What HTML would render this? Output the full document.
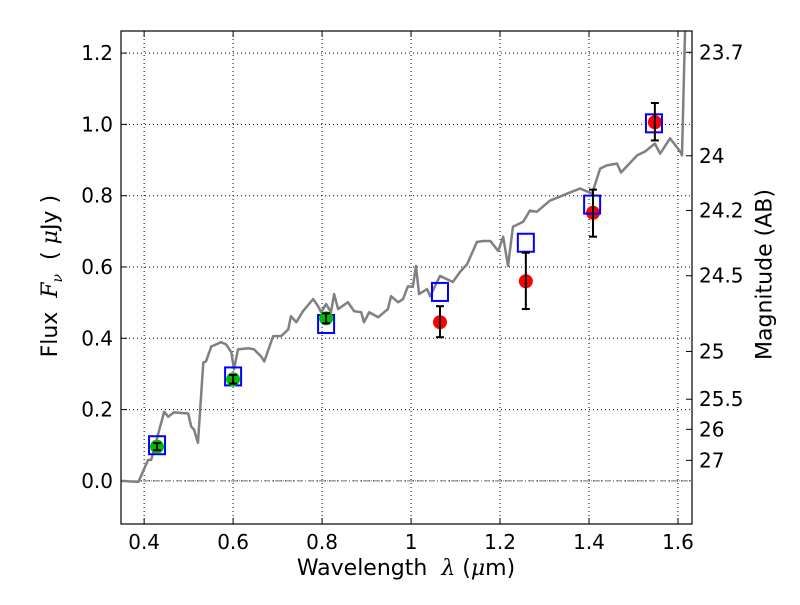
<!DOCTYPE html>
<html><head><meta charset="utf-8"><style>
body{margin:0;background:#fff}
text{font-family:"DejaVu Sans","Liberation Sans",sans-serif;font-size:20px;fill:#000}
</style></head><body>
<svg id="chart" width="800" height="600" xmlns="http://www.w3.org/2000/svg"></svg>
<script>
const xTicks=[0.4,0.6,0.8,1,1.2,1.4,1.6];
const xTickLabels=["0.4","0.6","0.8","1","1.2","1.4","1.6"];
const yTicks=[0,0.2,0.4,0.6,0.8,1.0,1.2];
const yTickLabels=["0.0","0.2","0.4","0.6","0.8","1.0","1.2"];
const magTicks=[23.7,24,24.2,24.5,25,25.5,26,27];
const magLabels=["23.7","24","24.2","24.5","25","25.5","26","27"];
const specWave=[0.348,0.387,0.409,0.416,0.445,0.454,0.467,0.499,0.506,0.512,0.521,0.533,0.539,0.551,0.562,0.573,0.584,0.596,0.602,0.611,0.634,0.647,0.663,0.670,0.690,0.708,0.724,0.730,0.742,0.757,0.780,0.791,0.798,0.809,0.820,0.827,0.836,0.858,0.872,0.888,0.894,0.906,0.926,0.948,0.955,0.971,0.982,0.993,1.004,1.011,1.018,1.036,1.043,1.065,1.094,1.110,1.126,1.148,1.162,1.178,1.196,1.207,1.218,1.229,1.252,1.267,1.283,1.312,1.351,1.380,1.407,1.425,1.440,1.463,1.472,1.508,1.526,1.548,1.560,1.582,1.605,1.609,1.616,1.618];
const specFlux=[0,-0.003,0.059,0.059,0.194,0.180,0.192,0.189,0.152,0.144,0.107,0.332,0.335,0.377,0.383,0.389,0.383,0.361,0.313,0.369,0.372,0.369,0.349,0.335,0.406,0.406,0.425,0.462,0.445,0.476,0.510,0.490,0.473,0.496,0.473,0.524,0.482,0.501,0.476,0.473,0.445,0.473,0.459,0.482,0.518,0.501,0.510,0.546,0.544,0.603,0.524,0.538,0.518,0.575,0.558,0.586,0.608,0.670,0.673,0.673,0.645,0.685,0.603,0.713,0.727,0.758,0.755,0.786,0.806,0.820,0.806,0.876,0.885,0.890,0.865,0.913,0.924,0.946,0.918,0.961,0.924,0.913,1.27,1.3];
const greenWave=[0.429,0.6,0.809];
const greenFlux=[0.096,0.285,0.456];
const greenErr=[0.01,0.012,0.014];
const modelWave=[0.429,0.6,0.809,1.065,1.258,1.407,1.546];
const modelFlux=[0.10,0.293,0.44,0.53,0.668,0.775,1.003];
const redWave=[1.065,1.258,1.409,1.548];
const redFlux=[0.445,0.56,0.752,1.006];
const redLo=[0.403,0.482,0.685,0.955];
const redHi=[0.49,0.64,0.817,1.06];

const L=121,R=692,T=31,B=524,X0=0.348,X1=1.6315,Y0=-0.121,Y1=1.262;
const sx=v=>L+(v-X0)/(X1-X0)*(R-L);
const sy=v=>B-(v-Y0)/(Y1-Y0)*(B-T);
const svg=document.getElementById('chart');
const NS='http://www.w3.org/2000/svg';
function mk(tag,attrs,parent){const e=document.createElementNS(NS,tag);for(const k in attrs)e.setAttribute(k,attrs[k]);(parent||svg).appendChild(e);return e;}
let e;
xTicks.forEach((t,i)=>{
 e=mk('line',{x1:sx(t),x2:sx(t),y1:T,y2:B,stroke:'#000','stroke-dasharray':'1,3','stroke-width':1});
 
 mk('line',{x1:sx(t),x2:sx(t),y1:B,y2:B-6,stroke:'#000'});mk('line',{x1:sx(t),x2:sx(t),y1:T,y2:T+6,stroke:'#000'});
 e=mk('text',{x:sx(t),y:B+25,'text-anchor':'middle'});e.textContent=xTickLabels[i];
 
});
yTicks.forEach((t,i)=>{
 e=mk('line',{x1:L,x2:R,y1:sy(t),y2:sy(t),stroke:'#000','stroke-dasharray':'1,3','stroke-width':1});
 
 mk('line',{x1:L,x2:L+6,y1:sy(t),y2:sy(t),stroke:'#000'});
 e=mk('text',{x:L-8,y:sy(t)+7,'text-anchor':'end'});e.textContent=yTickLabels[i];
 
});
magTicks.forEach((m,i)=>{
 const f=Math.pow(10,(23.9-m)/2.5);const y=sy(f);
 mk('line',{x1:R,x2:R-6,y1:y,y2:y,stroke:'#000'});
 e=mk('text',{x:R+7,y:y+7});e.textContent=magLabels[i];
 
});
e=mk('line',{x1:L,x2:R,y1:sy(0),y2:sy(0),stroke:'#777','stroke-dasharray':'6,2,1,2','stroke-width':1});

const cp=mk('clipPath',{id:'cp'});mk('rect',{x:L,y:T,width:R-L,height:B-T},cp);
e=mk('polyline',{points:specWave.map((w,i)=>sx(w)+','+sy(specFlux[i])).join(' '),fill:'none',stroke:'#808080','stroke-width':2.5,'stroke-linejoin':'round','clip-path':'url(#cp)'});

redWave.forEach((w,i)=>{
 e=mk('circle',{cx:sx(w),cy:sy(redFlux[i]),r:7,fill:'#f00'});
 
});
modelWave.forEach((w,i)=>{
 e=mk('rect',{x:sx(w)-8,y:sy(modelFlux[i])-9,width:16,height:18,fill:'none',stroke:'#00f','stroke-width':2});
 
});
redWave.forEach((w,i)=>{
 const x=sx(w);
 e=mk('g',{stroke:'#000','stroke-width':2});
 
 mk('line',{x1:x,x2:x,y1:sy(redLo[i]),y2:sy(redHi[i])},e);
 mk('line',{x1:x-4,x2:x+4,y1:sy(redLo[i]),y2:sy(redLo[i])},e);
 mk('line',{x1:x-4,x2:x+4,y1:sy(redHi[i]),y2:sy(redHi[i])},e);
});
greenWave.forEach((w,i)=>{
 const x=sx(w);
 e=mk('circle',{cx:x,cy:sy(greenFlux[i]),r:7,fill:'#0b0'});
 
 const g=mk('g',{stroke:'#000','stroke-width':2});
 mk('line',{x1:x,x2:x,y1:sy(greenFlux[i]-greenErr[i]),y2:sy(greenFlux[i]+greenErr[i])},g);
 mk('line',{x1:x-4,x2:x+4,y1:sy(greenFlux[i]-greenErr[i]),y2:sy(greenFlux[i]-greenErr[i])},g);
 mk('line',{x1:x-4,x2:x+4,y1:sy(greenFlux[i]+greenErr[i]),y2:sy(greenFlux[i]+greenErr[i])},g);
});
e=mk('rect',{x:L,y:T,width:R-L,height:B-T,fill:'none',stroke:'#000','stroke-width':1.2});

</script>
<div style="position:absolute;left:0;top:556px;width:812px;text-align:center;font:22px 'DejaVu Sans',sans-serif">Wavelength&nbsp; <i style="font-family:'DejaVu Serif',serif">λ</i> (<i style="font-family:'DejaVu Serif',serif">μ</i>m)</div>
<div style="position:absolute;left:-48px;top:262px;width:200px;text-align:center;transform:rotate(-90deg);font:22px 'DejaVu Sans',sans-serif;white-space:nowrap">Flux&nbsp; <i style="font-family:'DejaVu Serif',serif">F<sub style="font-size:14px">ν</sub></i>&nbsp; ( <i style="font-family:'DejaVu Serif',serif">μ</i>Jy )</div>
<div style="position:absolute;left:665px;top:262px;width:200px;text-align:center;transform:rotate(-90deg);font:22px 'DejaVu Sans',sans-serif;white-space:nowrap">Magnitude (AB)</div>
</body></html>
